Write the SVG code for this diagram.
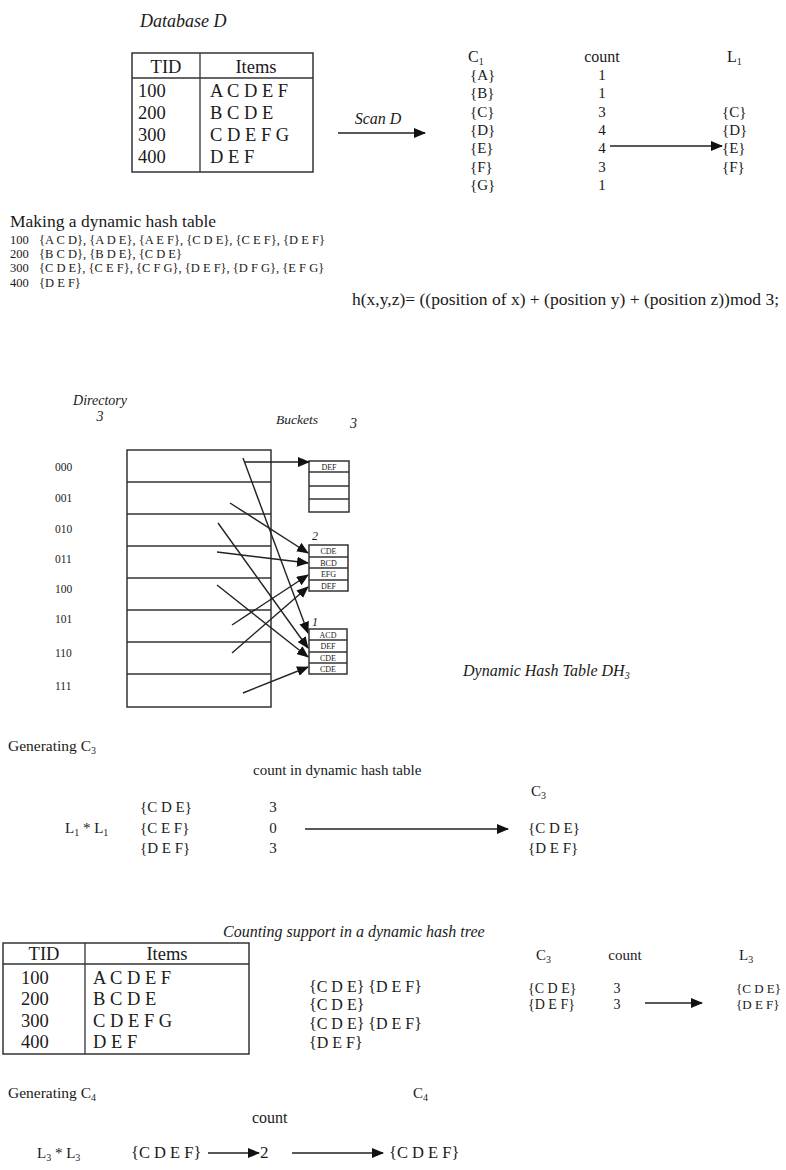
<svg xmlns="http://www.w3.org/2000/svg" width="786" height="1170" viewBox="0 0 786 1170">
<style>
text{font-family:"Liberation Serif","Times New Roman",serif;fill:#1a1a1a}
.it{font-style:italic}
.t18{font-size:18.5px}
.t16{font-size:16px}
.t15{font-size:15px}
.t12{font-size:12.5px}
.t11{font-size:11.5px}
.cell{font-size:8px;text-anchor:middle}
.mid{text-anchor:middle}
.box{fill:none;stroke:#333;stroke-width:1.5}
.ln{stroke:#333;stroke-width:1.3;fill:none}
.con line{stroke:#222;stroke-width:1.4;marker-end:url(#ah)}
</style>
<defs>
<marker id="ah" markerUnits="userSpaceOnUse" markerWidth="12" markerHeight="10" refX="11" refY="5" orient="auto">
<path d="M0,0 L12,5 L0,10 z" fill="#111"/>
</marker>
</defs>
<rect width="786" height="1170" fill="#fff"/>

<!-- Database D -->
<g id="database-d">
<text x="140" y="27" class="it" font-size="18">Database D</text>
<rect class="box" x="132" y="53" width="181" height="119"/>
<line class="ln" x1="200" y1="53" x2="200" y2="172"/>
<line class="ln" x1="132" y1="78" x2="313" y2="78"/>
<text x="166" y="73" class="t18 mid">TID</text>
<text x="256" y="73" class="t18 mid">Items</text>
<text x="138" y="97" class="t18">100</text><text x="210" y="97" class="t18">A C D E F</text>
<text x="138" y="119" class="t18">200</text><text x="210" y="119" class="t18">B C D E</text>
<text x="138" y="141" class="t18">300</text><text x="210" y="141" class="t18">C D E F G</text>
<text x="138" y="163" class="t18">400</text><text x="210" y="163" class="t18">D E F</text>
</g>

<g id="scan-label"><text x="378" y="124" class="it t16 mid">Scan D</text></g>

<!-- C1 / count / L1 -->
<g id="c1">
<text x="468" y="62" class="t16">C<tspan font-size="10" dy="3">1</tspan></text>
<text x="470" y="80" class="t15">{A}</text>
<text x="470" y="98" class="t15">{B}</text>
<text x="470" y="117" class="t15">{C}</text>
<text x="470" y="135" class="t15">{D}</text>
<text x="470" y="153" class="t15">{E}</text>
<text x="470" y="172" class="t15">{F}</text>
<text x="470" y="190" class="t15">{G}</text>
</g>
<g id="count1">
<text x="602" y="62" class="t16 mid">count</text>
<text x="602" y="80" class="t15 mid">1</text>
<text x="602" y="98" class="t15 mid">1</text>
<text x="602" y="117" class="t15 mid">3</text>
<text x="602" y="135" class="t15 mid">4</text>
<text x="602" y="153" class="t15 mid">4</text>
<text x="602" y="172" class="t15 mid">3</text>
<text x="602" y="190" class="t15 mid">1</text>
</g>
<g id="l1">
<text x="727" y="62" class="t16">L<tspan font-size="10" dy="3">1</tspan></text>
<text x="722" y="117" class="t15">{C}</text>
<text x="722" y="135" class="t15">{D}</text>
<text x="722" y="153" class="t15">{E}</text>
<text x="722" y="172" class="t15">{F}</text>
</g>

<!-- hash table text -->
<g id="hash-text">
<text x="10" y="227" font-size="17.5">Making a dynamic hash table</text>
<text x="10" y="244" class="t12">100</text><text x="39" y="244" class="t12">{A C D}, {A D E}, {A E F}, {C D E}, {C E F}, {D E F}</text>
<text x="10" y="258" class="t12">200</text><text x="39" y="258" class="t12">{B C D}, {B D E}, {C D E}</text>
<text x="10" y="272" class="t12">300</text><text x="39" y="272" class="t12">{C D E}, {C E F}, {C F G}, {D E F}, {D F G}, {E F G}</text>
<text x="10" y="287" class="t12">400</text><text x="39" y="287" class="t12">{D E F}</text>
</g>
<g id="hash-function"><text x="352" y="305" font-size="17.5">h(x,y,z)= ((position of x) +  (position y) + (position z))mod 3;</text></g>

<!-- Directory -->
<g id="directory">
<text x="100" y="405" class="it mid" font-size="14">Directory</text>
<text x="100" y="421" class="it mid" font-size="14">3</text>
<rect class="box" x="127" y="450" width="144" height="257"/>
<line class="ln" x1="127" y1="482" x2="271" y2="482"/>
<line class="ln" x1="127" y1="514" x2="271" y2="514"/>
<line class="ln" x1="127" y1="546" x2="271" y2="546"/>
<line class="ln" x1="127" y1="578" x2="271" y2="578"/>
<line class="ln" x1="127" y1="610" x2="271" y2="610"/>
<line class="ln" x1="127" y1="642" x2="271" y2="642"/>
<line class="ln" x1="127" y1="674" x2="271" y2="674"/>
<text x="55" y="471" class="t11">000</text>
<text x="55" y="502" class="t11">001</text>
<text x="55" y="533" class="t11">010</text>
<text x="55" y="563" class="t11">011</text>
<text x="55" y="593" class="t11">100</text>
<text x="55" y="623" class="t11">101</text>
<text x="55" y="657" class="t11">110</text>
<text x="55" y="690" class="t11">111</text>
</g>

<g id="buckets-label">
<text x="276" y="424" class="it" font-size="13.5">Buckets</text>
<text x="350" y="428" class="it" font-size="14">3</text>
</g>

<g id="bucket-3">
<rect class="box" x="309" y="461" width="40" height="51"/>
<line class="ln" x1="309" y1="472" x2="349" y2="472"/>
<line class="ln" x1="309" y1="486" x2="349" y2="486"/>
<line class="ln" x1="309" y1="499" x2="349" y2="499"/>
<text x="329" y="470" class="cell">DEF</text>
</g>

<g id="bucket-2">
<text x="312" y="540" class="it" font-size="12">2</text>
<rect class="box" x="309" y="545" width="39" height="46"/>
<line class="ln" x1="309" y1="557" x2="348" y2="557"/>
<line class="ln" x1="309" y1="568" x2="348" y2="568"/>
<line class="ln" x1="309" y1="580" x2="348" y2="580"/>
<text x="328.5" y="554" class="cell">CDE</text>
<text x="328.5" y="565.5" class="cell">BCD</text>
<text x="328.5" y="577" class="cell">EFG</text>
<text x="328.5" y="588.5" class="cell">DEF</text>
</g>

<g id="bucket-1">
<text x="312" y="626" class="it" font-size="12">1</text>
<rect class="box" x="309" y="629" width="38" height="45"/>
<line class="ln" x1="309" y1="640" x2="347" y2="640"/>
<line class="ln" x1="309" y1="652" x2="347" y2="652"/>
<line class="ln" x1="309" y1="663" x2="347" y2="663"/>
<text x="328" y="637.5" class="cell">ACD</text>
<text x="328" y="649" class="cell">DEF</text>
<text x="328" y="660.5" class="cell">CDE</text>
<text x="328" y="671.5" class="cell">CDE</text>
</g>

<g id="dh3-label"><text x="463" y="676" class="it" font-size="16">Dynamic Hash Table DH<tspan font-size="10" dy="3">3</tspan></text></g>

<!-- Generating C3 -->
<g id="gen-c3">
<text x="8" y="751" font-size="15.5">Generating C<tspan font-size="10" dy="3">3</tspan></text>
<text x="253" y="775" class="t15">count in dynamic hash table</text>
<text x="65" y="833" class="t15">L<tspan font-size="10" dy="3">1</tspan><tspan dy="-3"> * L</tspan><tspan font-size="10" dy="3">1</tspan></text>
<text x="140" y="812" class="t15">{C D E}</text>
<text x="140" y="833" class="t15">{C E F}</text>
<text x="140" y="853" class="t15">{D E F}</text>
<text x="273" y="812" class="t15 mid">3</text>
<text x="273" y="833" class="t15 mid">0</text>
<text x="273" y="853" class="t15 mid">3</text>
</g>
<g id="c3-result">
<text x="531" y="796" class="t15">C<tspan font-size="10" dy="3">3</tspan></text>
<text x="528" y="833" class="t15">{C D E}</text>
<text x="528" y="853" class="t15">{D E F}</text>
</g>

<!-- Counting support -->
<g id="counting-label"><text x="223" y="937" class="it" font-size="16">Counting support in a dynamic hash tree</text></g>
<g id="database-d2">
<rect class="box" x="3" y="943" width="246" height="111"/>
<line class="ln" x1="85" y1="943" x2="85" y2="1054"/>
<line class="ln" x1="3" y1="964" x2="249" y2="964"/>
<text x="44" y="960" class="t18 mid">TID</text>
<text x="167" y="960" class="t18 mid">Items</text>
<text x="21" y="984" class="t18">100</text><text x="93" y="984" class="t18">A C D E F</text>
<text x="21" y="1005" class="t18">200</text><text x="93" y="1005" class="t18">B C D E</text>
<text x="21" y="1027" class="t18">300</text><text x="93" y="1027" class="t18">C D E F G</text>
<text x="21" y="1048" class="t18">400</text><text x="93" y="1048" class="t18">D E F</text>
</g>
<g id="subsets">
<text x="309" y="992" font-size="16">{C D E} {D E F}</text>
<text x="309" y="1010" font-size="16">{C D E}</text>
<text x="309" y="1029" font-size="16">{C D E} {D E F}</text>
<text x="309" y="1048" font-size="16">{D E F}</text>
</g>
<g id="c3-count">
<text x="536" y="960" class="t15">C<tspan font-size="10" dy="3">3</tspan></text>
<text x="625" y="960" class="t15 mid">count</text>
<text x="528" y="993" font-size="14">{C D E}</text>
<text x="528" y="1009" font-size="14">{D E F}</text>
<text x="617" y="993" font-size="14" class="mid">3</text>
<text x="617" y="1009" font-size="14" class="mid">3</text>
</g>
<g id="l3">
<text x="739" y="960" class="t15">L<tspan font-size="10" dy="3">3</tspan></text>
<text x="736" y="993" font-size="13">{C D E}</text>
<text x="736" y="1009" font-size="13">{D E F}</text>
</g>

<!-- Generating C4 -->
<g id="gen-c4">
<text x="8" y="1098" font-size="15.5">Generating C<tspan font-size="10" dy="3">4</tspan></text>
<text x="252" y="1123" class="t16">count</text>
<text x="37" y="1158" class="t15">L<tspan font-size="10" dy="3">3</tspan><tspan dy="-3"> * L</tspan><tspan font-size="10" dy="3">3</tspan></text>
<text x="131" y="1158" font-size="16.5">{C D E F}</text>
<text x="260" y="1158" font-size="17">2</text>
</g>
<g id="c4">
<text x="413" y="1098" class="t15">C<tspan font-size="10" dy="3">4</tspan></text>
<text x="389" y="1158" font-size="16.5">{C D E  F}</text>
</g>

<!-- connectors -->
<g id="connectors" class="con">
<line x1="338" y1="133" x2="425" y2="133"/>
<line x1="610" y1="146" x2="722" y2="146"/>
<line x1="245" y1="462" x2="309" y2="462"/>
<line x1="243" y1="458" x2="308" y2="633"/>
<line x1="230" y1="503" x2="308" y2="553"/>
<line x1="218" y1="523" x2="308" y2="648"/>
<line x1="217" y1="552" x2="308" y2="563"/>
<line x1="217" y1="585" x2="308" y2="657"/>
<line x1="232" y1="625" x2="308" y2="575"/>
<line x1="232" y1="653" x2="308" y2="587"/>
<line x1="243" y1="693" x2="308" y2="667"/>
<line x1="305" y1="829" x2="508" y2="829"/>
<line x1="645" y1="1003" x2="702" y2="1003"/>
<line x1="208" y1="1153" x2="259" y2="1153"/>
<line x1="292" y1="1153" x2="383" y2="1153"/>
</g>
</svg>
